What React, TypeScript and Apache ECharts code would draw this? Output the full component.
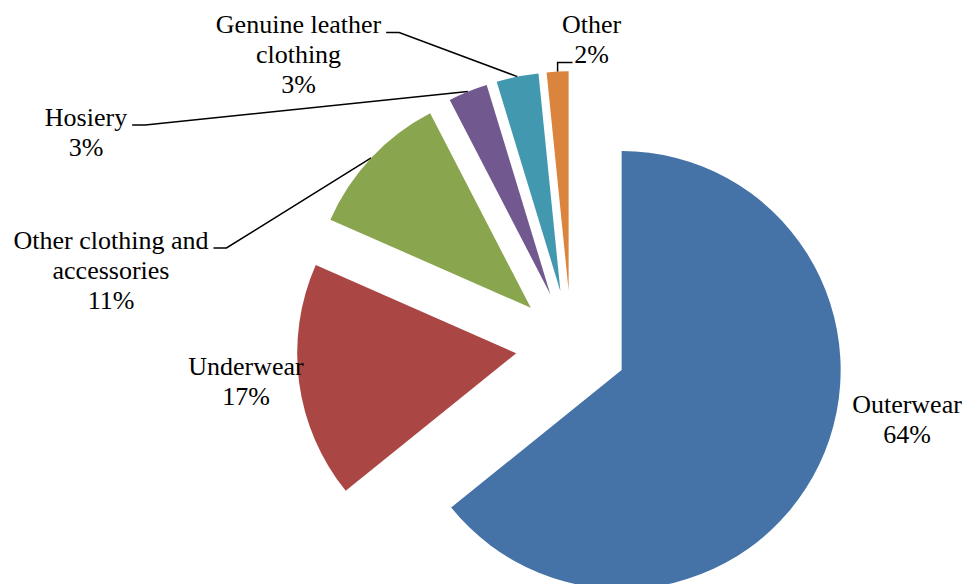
import React, { useEffect, useRef } from "react";
import * as echarts from "echarts";

// ---- data ----
const categories = [
  "Outerwear",
  "Underwear",
  "Other clothing and accessories",
  "Hosiery",
  "Genuine leather clothing",
  "Other",
];
const shares = [64.2, 17.4, 10.8, 2.9, 3.1, 1.6];
const labelText = [
  "Outerwear",
  "Underwear",
  "Other clothing and\naccessories",
  "Hosiery",
  "Genuine leather\nclothing",
  "Other",
];

// ---- styles / layout ----
const colors = ["#4572A7", "#AA4643", "#89A54E", "#71588F", "#4198AF", "#DB843D"];
const FONT = "'Liberation Serif', 'Times New Roman', serif";
const FONT_SIZE = 26;
const LINE_H = 30;
const CENTER = [571.4, 346];
const RADIUS = 219;
const EXPLODE = 55.7;
const LABEL_POS: { x: number; y: number; line: string }[] = [
  { x: 907, y: 419, line: "none" },
  { x: 246, y: 381, line: "none" },
  { x: 111, y: 270, line: "right" },
  { x: 86, y: 132, line: "right" },
  { x: 298.5, y: 54.5, line: "right" },
  { x: 591.5, y: 39.5, line: "second" },
];

export default function App() {
  const ref = useRef<HTMLDivElement>(null);
  useEffect(() => {
    if (!ref.current) return;
    const chart = echarts.init(ref.current, undefined, { renderer: "svg" });
    const option: any = {
      animation: false,
      series: [
        {
          type: "pie",
          center: CENTER,
          radius: RADIUS,
          startAngle: 90,
          clockwise: true,
          selectedMode: "multiple",
          selectedOffset: EXPLODE,
          avoidLabelOverlap: false,
          silent: true,
          label: { show: false },
          labelLine: { show: false },
          emphasis: { disabled: true },
          select: { itemStyle: { borderWidth: 0 } },
          itemStyle: { borderWidth: 0 },
          data: categories.map((name, i) => ({
            name,
            value: shares[i],
            selected: true,
            itemStyle: { color: colors[i] },
          })),
        },
        {
          type: "pie",
          center: CENTER,
          radius: RADIUS + EXPLODE,
          startAngle: 90,
          clockwise: true,
          avoidLabelOverlap: false,
          silent: true,
          emphasis: { disabled: true },
          itemStyle: { color: "rgba(0,0,0,0)", borderWidth: 0 },
          label: {
            show: true,
            position: "outside",
            color: "#000",
            fontFamily: FONT,
            fontSize: FONT_SIZE,
            lineHeight: LINE_H,
            formatter: (p: any) => `${labelText[p.dataIndex]}\n${Math.round(p.percent)}%`,
          },
          labelLine: {
            show: true,
            length: 5,
            length2: 5,
            lineStyle: { color: "#000", width: 1.5 },
          },
          labelLayout: (params: any) => {
            const i = params.dataIndex;
            const L = LABEL_POS[i];
            const w = params.labelRect.width;
            const h = params.labelRect.height;
            const out: any = { x: L.x, y: L.y, align: "center", verticalAlign: "middle" };
            const pts = params.labelLinePoints;
            if (L.line !== "none" && pts && pts.length) {
              const p1 = pts[0];
              const top = L.y - h / 2;
              if (L.line === "right") {
                const ay = top + LINE_H / 2 + 8;
                const ax = L.x + w / 2 + 5;
                out.labelLinePoints = [p1, [ax + 13, ay], [ax, ay]];
              } else {
                const ay = top + LINE_H * 1.5 + 8;
                const ax = L.x - 19;
                out.labelLinePoints = [p1, [p1[0], ay], [ax, ay]];
              }
            }
            return out;
          },
          data: categories.map((name, i) => ({
            name,
            value: shares[i],
            labelLine: { show: LABEL_POS[i].line !== "none" },
          })),
        },
      ],
    };
    chart.setOption(option);
    return () => chart.dispose();
  }, []);
  return (
    <div
      ref={ref}
      style={{ position: "absolute", left: 0, top: 0, width: 966, height: 584, background: "#fff" }}
    />
  );
}
